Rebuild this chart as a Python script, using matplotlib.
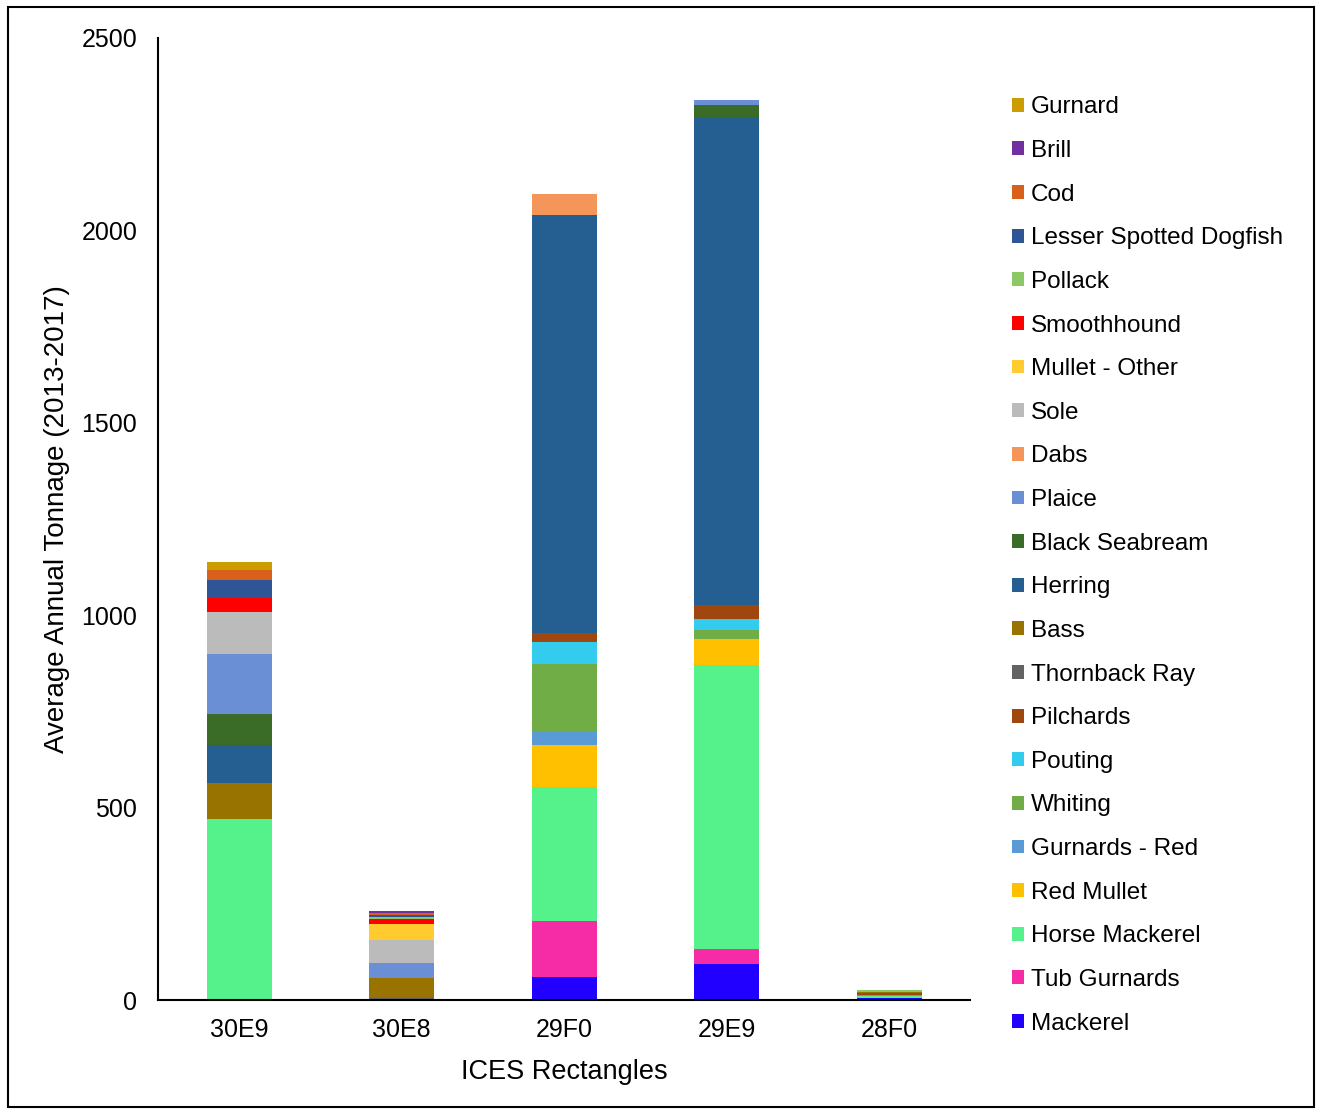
import matplotlib.pyplot as plt
import numpy as np
from matplotlib.patches import Patch, Rectangle

plt.rcParams['font.family'] = ['Liberation Sans', 'DejaVu Sans']

rectangles = ["30E9", "30E8", "29F0", "29E9", "28F0"]

# species from the bottom of the stack upward
species = ["Mackerel", "Tub Gurnards", "Horse Mackerel", "Red Mullet", "Gurnards - Red",
           "Whiting", "Pouting", "Pilchards", "Thornback Ray", "Bass", "Herring",
           "Black Seabream", "Plaice", "Dabs", "Sole", "Mullet - Other", "Smoothhound",
           "Pollack", "Lesser Spotted Dogfish", "Cod", "Brill", "Gurnard"]

tonnage = {
    "Mackerel":               [0, 0, 60, 94, 5],
    "Tub Gurnards":           [0, 0, 145, 39, 0],
    "Horse Mackerel":         [470, 0, 348, 738, 5],
    "Red Mullet":             [0, 0, 110, 67, 0],
    "Gurnards - Red":         [0, 0, 36, 0, 0],
    "Whiting":                [0, 0, 174, 24, 4],
    "Pouting":                [0, 0, 57, 28, 0],
    "Pilchards":              [0, 0, 24, 36, 3],
    "Thornback Ray":          [0, 5, 0, 0, 0],
    "Bass":                   [94, 52, 0, 0, 4],
    "Herring":                [99, 0, 1086, 1269, 0],
    "Black Seabream":         [80, 0, 0, 31, 0],
    "Plaice":                 [156, 39, 0, 13, 0],
    "Dabs":                   [0, 0, 55, 0, 0],
    "Sole":                   [109, 60, 0, 0, 0],
    "Mullet - Other":         [0, 42, 0, 0, 0],
    "Smoothhound":            [37, 13, 0, 0, 0],
    "Pollack":                [0, 5, 0, 0, 4],
    "Lesser Spotted Dogfish": [46, 6, 0, 0, 0],
    "Cod":                    [26, 5, 0, 0, 0],
    "Brill":                  [0, 5, 0, 0, 0],
    "Gurnard":                [21, 0, 0, 0, 0],
}

colours = {
    "Mackerel": "#2200FF", "Tub Gurnards": "#F52CA5", "Horse Mackerel": "#55F28C",
    "Red Mullet": "#FFC000", "Gurnards - Red": "#5B9BD5", "Whiting": "#70AD47",
    "Pouting": "#33CCEE", "Pilchards": "#A0460F", "Thornback Ray": "#636363",
    "Bass": "#987300", "Herring": "#255E91", "Black Seabream": "#3A6B27",
    "Plaice": "#6B8FD4", "Dabs": "#F4965A", "Sole": "#BBBBBB",
    "Mullet - Other": "#FFCB2F", "Smoothhound": "#FF0000", "Pollack": "#8BC866",
    "Lesser Spotted Dogfish": "#2F5597", "Cod": "#D9601A", "Brill": "#7030A0",
    "Gurnard": "#CC9C00",
}

fig = plt.figure(figsize=(13.22, 11.11), dpi=100)
ax = fig.add_axes([0.1195, 0.0999, 0.6145, 0.866])

x = np.arange(len(rectangles))
bottom = np.zeros(len(rectangles))
for sp in species:
    vals = np.array(tonnage[sp], dtype=float)
    ax.bar(x, vals, bottom=bottom, width=0.4, color=colours[sp], linewidth=0)
    bottom += vals

ax.set_xlim(-0.5, 4.5)
ax.set_ylim(0, 2500)
ax.set_yticks([0, 500, 1000, 1500, 2000, 2500])
ax.set_xticks(x)
ax.set_xticklabels(rectangles)
ax.tick_params(axis="both", length=0, labelsize=18)
ax.tick_params(axis="y", pad=15)
ax.tick_params(axis="x", pad=13)
ax.spines["top"].set_visible(False)
ax.spines["right"].set_visible(False)
ax.spines["left"].set_linewidth(1.5)
ax.spines["bottom"].set_linewidth(1.5)
ax.set_ylabel("Average Annual Tonnage (2013-2017)", fontsize=20, labelpad=8)
ax.set_xlabel("ICES Rectangles", fontsize=19.5, labelpad=12)

handles = [Patch(facecolor=colours[sp], label=sp) for sp in species[::-1]]
fig.legend(handles=handles, loc="upper left", bbox_to_anchor=(0.758, 0.922),
           frameon=False, fontsize=17.5, handlelength=0.5, handleheight=0.5,
           handletextpad=0.3, labelspacing=0.89, borderaxespad=0)

fig.patches.append(Rectangle((0.006, 0.004), 0.988, 0.99, transform=fig.transFigure,
                             fill=False, edgecolor="black", linewidth=1.5))

fig.savefig("out.png", dpi=100)
